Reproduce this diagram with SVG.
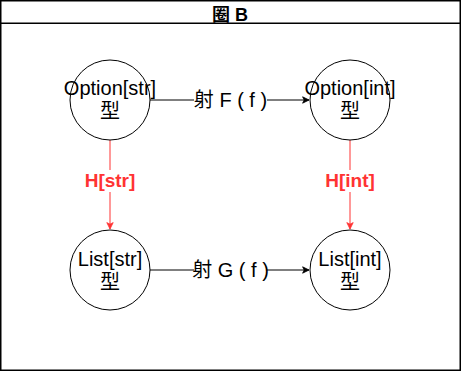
<svg xmlns="http://www.w3.org/2000/svg" width="461" height="371" viewBox="0 0 461 371">
  <style>
    text { font-family: "Liberation Sans", "Noto Sans CJK SC", sans-serif; text-anchor: middle; }
    .frame { fill: #ffffff; stroke: #000000; stroke-width: 1.5; }
    .title { font-size: 18px; font-weight: bold; fill: #000000; }
    .node circle { fill: #ffffff; stroke: #000000; stroke-width: 1; }
    .node text { font-size: 20px; fill: #000000; }
    .edge { fill: none; stroke: #000000; stroke-width: 1; }
    .edge-red { fill: none; stroke: #ff3333; stroke-width: 1; }
    .lbl-bg { fill: #ffffff; }
    .lbl { font-size: 20px; fill: #000000; }
    .lbl-red { font-size: 19px; font-weight: bold; fill: #ff3333; }
  </style>
  <defs>
    <marker id="arrow" viewBox="0 0 10 10" refX="9" refY="5" markerWidth="8" markerHeight="8" markerUnits="userSpaceOnUse" orient="auto">
      <path d="M1,1 L9,5 L1,9 L3,5 Z" fill="#000000" stroke="#000000" stroke-width="1"/>
    </marker>
    <marker id="arrow-red" viewBox="0 0 10 10" refX="9" refY="5" markerWidth="8" markerHeight="8" markerUnits="userSpaceOnUse" orient="auto">
      <path d="M1,1 L9,5 L1,9 L3,5 Z" fill="#ff3333" stroke="#ff3333" stroke-width="1"/>
    </marker>
  </defs>

  <!-- container with header -->
  <g id="container">
    <rect class="frame" x="0.75" y="0.75" width="459.5" height="369.5"/>
    <line x1="0.75" y1="23.25" x2="460.25" y2="23.25" stroke="#000000" stroke-width="1.5"/>
    <text class="title" x="230" y="20.5">圈 B</text>
  </g>

  <!-- connectors -->
  <g id="connectors">
    <g id="edge-f">
      <line class="edge" x1="150" y1="100" x2="309" y2="100" marker-end="url(#arrow)"/>
      <rect class="lbl-bg" x="194" y="88" width="73" height="24"/>
      <text class="lbl" x="230.5" y="107">射 F ( f )</text>
    </g>
    <g id="edge-g">
      <line class="edge" x1="150" y1="270" x2="309" y2="270" marker-end="url(#arrow)"/>
      <rect class="lbl-bg" x="194" y="258" width="73" height="24"/>
      <text class="lbl" x="230.5" y="277">射 G ( f )</text>
    </g>
    <g id="edge-hstr">
      <line class="edge-red" x1="110" y1="140" x2="110" y2="229" marker-end="url(#arrow-red)"/>
      <rect class="lbl-bg" x="82" y="170" width="56" height="22"/>
      <text class="lbl-red" x="110" y="187">H[str]</text>
    </g>
    <g id="edge-hint">
      <line class="edge-red" x1="350" y1="140" x2="350" y2="229" marker-end="url(#arrow-red)"/>
      <rect class="lbl-bg" x="325" y="170" width="50" height="22"/>
      <text class="lbl-red" x="350" y="187">H[int]</text>
    </g>
  </g>

  <!-- nodes -->
  <g id="node-option-str" class="node">
    <circle cx="110" cy="100" r="40"/>
    <text x="110" y="95">Option[str]</text>
    <text x="110" y="118">型</text>
  </g>
  <g id="node-option-int" class="node">
    <circle cx="350" cy="100" r="40"/>
    <text x="350" y="95">Option[int]</text>
    <text x="350" y="118">型</text>
  </g>
  <g id="node-list-str" class="node">
    <circle cx="110" cy="270" r="40"/>
    <text x="110" y="266">List[str]</text>
    <text x="110" y="289">型</text>
  </g>
  <g id="node-list-int" class="node">
    <circle cx="350" cy="270" r="40"/>
    <text x="350" y="266">List[int]</text>
    <text x="350" y="289">型</text>
  </g>
</svg>
